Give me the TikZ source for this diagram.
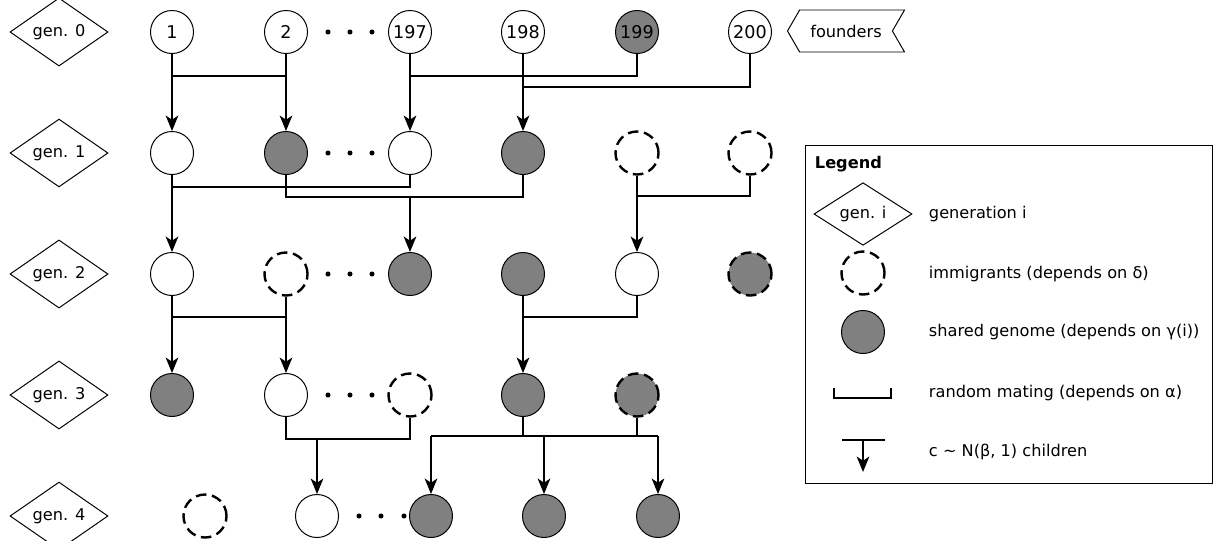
\documentclass[tikz,border=0pt]{standalone}
\usepackage{fontspec}
\setmainfont{DejaVu Sans}
\usetikzlibrary{shapes.geometric,shapes.symbols,arrows.meta}
\definecolor{shgray}{HTML}{808080}
\begin{document}
\begin{tikzpicture}[
        x=0.025cm, y=-0.025cm,
        font=\fontsize{11.5}{13}\selectfont,
        person/.style={draw, circle, minimum size=1.075cm, inner sep=0pt, line width=0.7pt, fill=white,
            font=\fontsize{12.5}{14}\selectfont},
        shared/.style={person, fill=shgray},
        immig/.style={person, line width=1.7pt, dash pattern=on 7.5pt off 4pt},
        gen/.style={draw, diamond, minimum width=2.45cm, minimum height=1.05cm, inner sep=0pt, line width=0.7pt},
        mate/.style={line width=1pt},
        kid/.style={line width=1pt, -{Stealth[length=11pt, width=9pt, inset=3pt]}},
        legtext/.style={anchor=west}
    ]
    \useasboundingbox (0,0) rectangle (1214,540);
    \foreach \g in {0,...,4}
        \node[gen] (l\g) at (59,32+121*\g) {gen. \g};
    \foreach \y in {32,153,274,395}
        \foreach \x in {328,350,372}
            \fill (\x,\y) circle (1.8pt);
    \foreach \x in {359,381,404}
        \fill (\x,516) circle (1.8pt);

    \node[person] (g0a) at (172,32) {1};
    \node[person] (g0b) at (286,32) {2};
    \node[person] (g0c) at (410,32) {197};
    \node[person] (g0d) at (523,32) {198};
    \node[shared] (g0e) at (637,32) {199};
    \node[person] (g0f) at (750,32) {200};
    \node[draw, signal, signal to=west, signal from=east, signal pointer angle=120,
          minimum width=2.925cm, minimum height=1.05cm, line width=0.7pt] (fnd) at (846,31) {founders};

    \node[person] (g1a) at (172,153) {};
    \node[shared] (g1b) at (286,153) {};
    \node[person] (g1c) at (410,153) {};
    \node[shared] (g1d) at (523,153) {};
    \node[immig] (g1e) at (637,153) {};
    \node[immig] (g1f) at (750,153) {};

    \node[person] (g2a) at (172,274) {};
    \node[immig] (g2b) at (286,274) {};
    \node[shared] (g2c) at (410,274) {};
    \node[shared] (g2d) at (523,274) {};
    \node[person] (g2e) at (637,274) {};
    \node[immig, fill=shgray] (g2f) at (750,274) {};

    \node[shared] (g3a) at (172,395) {};
    \node[person] (g3b) at (286,395) {};
    \node[immig] (g3c) at (410,395) {};
    \node[shared] (g3d) at (523,395) {};
    \node[immig, fill=shgray] (g3e) at (637,395) {};

    \node[immig] (g4a) at (205,516) {};
    \node[person] (g4b) at (317,516) {};
    \node[shared] (g4c) at (431,516) {};
    \node[shared] (g4d) at (544,516) {};
    \node[shared] (g4e) at (658,516) {};

    \draw[mate] (g0a) |- (g0b |- 0,76) -- (g0b);
    \draw[mate] (g0c) |- (g0e |- 0,76) -- (g0e);
    \draw[mate] (g0d) |- (g0f |- 0,87) -- (g0f);
    \draw[kid] (g0a |- 0,76) -- (g1a);
    \draw[kid] (g0b |- 0,76) -- (g1b);
    \draw[kid] (g0c |- 0,76) -- (g1c);
    \draw[kid] (g0d |- 0,87) -- (g1d);

    \draw[mate] (g1a) |- (g1c |- 0,187) -- (g1c);
    \draw[mate] (g1b) |- (g1d |- 0,197) -- (g1d);
    \draw[mate] (g1e) |- (g1f |- 0,196) -- (g1f);
    \draw[kid] (g1a |- 0,187) -- (g2a);
    \draw[kid] (g2c |- 0,197) -- (g2c);
    \draw[kid] (g1e |- 0,196) -- (g2e);

    \draw[mate] (g2a) |- (g2b |- 0,317) -- (g2b);
    \draw[mate] (g2d) |- (g2e |- 0,317) -- (g2e);
    \draw[kid] (g2a |- 0,317) -- (g3a);
    \draw[kid] (g2b |- 0,317) -- (g3b);
    \draw[kid] (g2d |- 0,317) -- (g3d);

    \draw[mate] (g3b) |- (g3c |- 0,439) -- (g3c);
    \draw[kid] (g4b |- 0,439) -- (g4b);
    \draw[mate] (g3d) -- (g3d |- 0,436) (g3e) -- (g3e |- 0,436);
    \draw[mate] (g4c |- 0,436) -- (g4e |- 0,436);
    \draw[kid] (g4c |- 0,436) -- (g4c);
    \draw[kid] (g4d |- 0,436) -- (g4d);
    \draw[kid] (g4e |- 0,436) -- (g4e);

    \draw[line width=0.7pt] (805,145) rectangle (1212,483);
    \node[legtext, font=\fontsize{11.5}{13}\selectfont\bfseries] (ltitle) at (810,164) {Legend};
    \node[gen] (lgen) at (863,214) {gen. i};
    \node[immig] (limm) at (863,273) {};
    \node[shared] (lsh) at (863,332) {};
    \draw[mate] (834,388) |- (891,398) -- (891,388);
    \draw[mate] (842,440) -- (885,440);
    \draw[kid] (863,440) -- (863,472);
    \node[legtext] (tgen) at (924,214) {generation i};
    \node[legtext] (timm) at (924,274) {immigrants (depends on δ)};
    \node[legtext] (tsh) at (924,332) {shared genome (depends on γ(i))};
    \node[legtext] (tmate) at (924,393) {random mating (depends on α)};
    \node[legtext] (tkid) at (924,452) {c \textasciitilde{} N(β, 1) children};
\end{tikzpicture}
\end{document}
